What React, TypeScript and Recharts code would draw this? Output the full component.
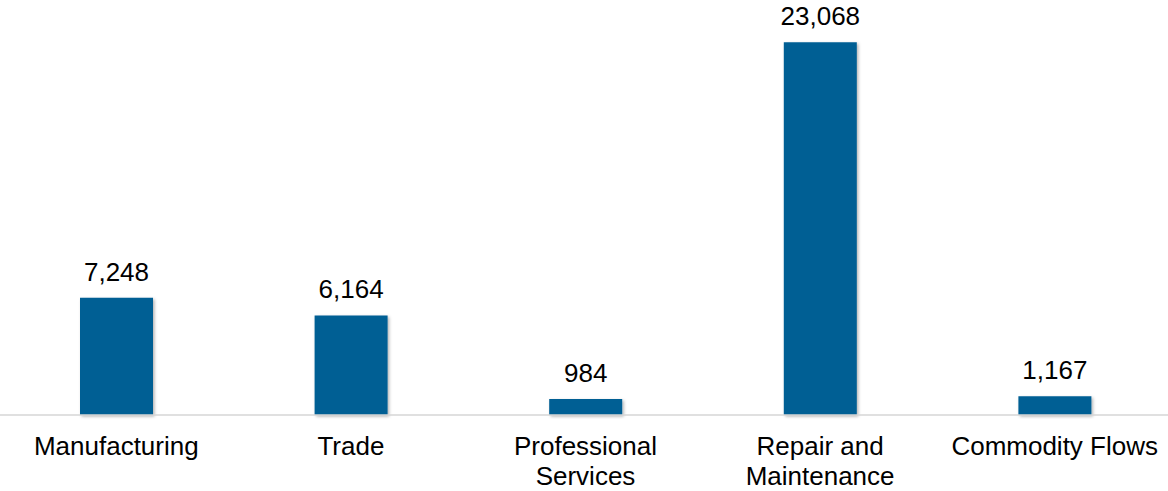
import { Bar, BarChart, LabelList, XAxis, YAxis } from "recharts";

const categories = [
  "Manufacturing",
  "Trade",
  "Professional\nServices",
  "Repair and\nMaintenance",
  "Commodity Flows",
];
const values = [7248, 6164, 984, 23068, 1167];

const data = categories.map((name, i) => ({ name, value: values[i] }));

const BAR_COLOR = "#045F94";
const FONT = "'Liberation Sans', Arial, sans-serif";

function CategoryTick(props: any) {
  const { x, y, payload } = props;
  const lines = String(payload.value).split("\n");
  return (
    <text x={x} y={y} textAnchor="middle" fill="#000" fontSize={26} fontFamily={FONT}>
      {lines.map((line, i) => (
        <tspan key={i} x={x} dy={i === 0 ? 32 : 30}>
          {line}
        </tspan>
      ))}
    </text>
  );
}

function formatValue(v: any): string {
  return Number(v).toLocaleString("en-US");
}

export default function App() {
  return (
    <div style={{ position: "absolute", left: 0, top: 0, background: "#fff" }}>
      <BarChart
        width={1168}
        height={491}
        data={data}
        margin={{ top: 11, right: -4, left: -1, bottom: 0 }}
      >
        <defs>
          <filter id="barShadow" x="-20%" y="-20%" width="140%" height="140%">
            <feDropShadow dx="1.5" dy="1.5" stdDeviation="1.5" floodColor="#000" floodOpacity="0.3" />
          </filter>
        </defs>
        <YAxis hide domain={[0, 25000]} />
        <XAxis
          dataKey="name"
          interval={0}
          tickLine={false}
          axisLine={{ stroke: "#D6D6D6", strokeWidth: 1.5 }}
          tick={<CategoryTick />}
          height={76}
        />
        <Bar
          dataKey="value"
          fill={BAR_COLOR}
          barSize={73}
          isAnimationActive={false}
          filter="url(#barShadow)"
        >
          <LabelList
            dataKey="value"
            position="top"
            offset={17}
            formatter={formatValue}
            fill="#000"
            fontSize={26}
            fontFamily={FONT}
          />
        </Bar>
      </BarChart>
    </div>
  );
}
